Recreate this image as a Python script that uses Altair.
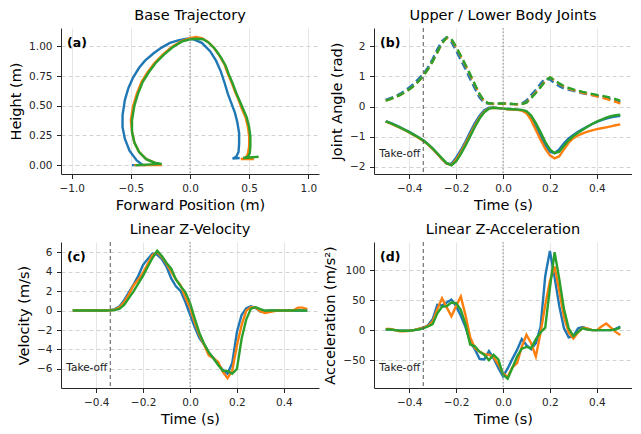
import altair as alt
import pandas as pd

FONT = "DejaVu Sans"
SERIES = ["Run 1", "Run 2", "Run 3"]
COLORS = ["#1f77b4", "#ff7f0e", "#2ca02c"]
TAKEOFF_T = -0.34
W, H = 258, 146

# ---------------- (a) base trajectory ----------------
traj_x_1 = [-0.49, -0.40, -0.45, -0.51, -0.55, -0.57, -0.57, -0.55, -0.52, -0.48, -0.43, -0.38, -0.31, -0.24,
            -0.17, -0.10, -0.03, 0.03, 0.10, 0.17, 0.22, 0.26, 0.29, 0.32, 0.35, 0.38, 0.40, 0.415, 0.415,
            0.41, 0.39, 0.36, 0.42]
traj_y_1 = [0.00, 0.00, 0.04, 0.12, 0.22, 0.32, 0.42, 0.55, 0.65, 0.74, 0.82, 0.88, 0.94, 0.99,
            1.03, 1.05, 1.065, 1.06, 1.03, 0.96, 0.88, 0.79, 0.70, 0.60, 0.52, 0.44, 0.36, 0.27, 0.18,
            0.11, 0.07, 0.055, 0.06]
traj_x_2 = [-0.47, -0.24, -0.30, -0.37, -0.43, -0.47, -0.49, -0.50, -0.48, -0.45, -0.41, -0.36, -0.30, -0.23,
            -0.16, -0.08, 0.00, 0.05, 0.10, 0.15, 0.20, 0.25, 0.29, 0.32, 0.35, 0.38, 0.41, 0.44, 0.47,
            0.49, 0.50, 0.50, 0.49, 0.47, 0.43, 0.54]
traj_y_2 = [0.00, 0.00, 0.02, 0.05, 0.11, 0.19, 0.28, 0.38, 0.50, 0.60, 0.70, 0.78, 0.86, 0.93,
            0.99, 1.04, 1.07, 1.08, 1.07, 1.04, 0.99, 0.92, 0.85, 0.77, 0.70, 0.62, 0.55, 0.47, 0.40,
            0.32, 0.24, 0.16, 0.10, 0.06, 0.05, 0.05]
traj_x_3 = [-0.46, -0.24, -0.30, -0.37, -0.43, -0.47, -0.49, -0.49, -0.47, -0.44, -0.40, -0.35, -0.29, -0.22,
            -0.15, -0.07, 0.00, 0.06, 0.11, 0.16, 0.21, 0.26, 0.30, 0.33, 0.36, 0.39, 0.42, 0.45, 0.48,
            0.50, 0.51, 0.51, 0.505, 0.49, 0.45, 0.58]
traj_y_3 = [0.00, 0.01, 0.02, 0.05, 0.11, 0.19, 0.28, 0.38, 0.50, 0.60, 0.70, 0.78, 0.86, 0.93,
            0.99, 1.04, 1.06, 1.065, 1.06, 1.03, 0.98, 0.91, 0.84, 0.76, 0.69, 0.61, 0.54, 0.47, 0.40,
            0.32, 0.24, 0.16, 0.10, 0.07, 0.06, 0.07]

# ---------------- common time axis ----------------
TIME = [-0.50, -0.48, -0.46, -0.44, -0.42, -0.40, -0.38, -0.36, -0.34, -0.32,
        -0.30, -0.28, -0.26, -0.24, -0.22, -0.20, -0.18, -0.16, -0.14, -0.12,
        -0.10, -0.08, -0.06, -0.04, -0.02, 0.00, 0.02, 0.04, 0.06, 0.08,
        0.10, 0.12, 0.14, 0.16, 0.18, 0.20, 0.22, 0.24, 0.26, 0.28,
        0.30, 0.32, 0.34, 0.36, 0.38, 0.40, 0.42, 0.44, 0.46, 0.48, 0.50]

# ---------------- (b) joints ----------------
upper_1 = [0.22, 0.28, 0.34, 0.42, 0.52, 0.63, 0.76, 0.92, 1.08, 1.30,
           1.58, 1.90, 2.18, 2.30, 2.15, 1.86, 1.55, 1.25, 0.92, 0.60,
           0.30, 0.13, 0.09, 0.08, 0.09, 0.10, 0.09, 0.08, 0.08, 0.10,
           0.20, 0.38, 0.56, 0.76, 0.94, 0.90, 0.78, 0.68, 0.60, 0.56,
           0.52, 0.48, 0.44, 0.41, 0.38, 0.35, 0.32, 0.28, 0.24, 0.20, 0.15]
upper_2 = [0.20, 0.25, 0.31, 0.38, 0.47, 0.57, 0.69, 0.84, 1.02, 1.24,
           1.50, 1.80, 2.10, 2.28, 2.22, 1.97, 1.67, 1.37, 1.05, 0.72,
           0.40, 0.17, 0.10, 0.09, 0.09, 0.10, 0.09, 0.08, 0.07, 0.08,
           0.14, 0.30, 0.47, 0.66, 0.86, 0.97, 0.86, 0.75, 0.66, 0.60,
           0.55, 0.50, 0.46, 0.42, 0.38, 0.34, 0.30, 0.26, 0.21, 0.16, 0.10]
upper_3 = [0.20, 0.25, 0.31, 0.38, 0.47, 0.57, 0.69, 0.84, 1.02, 1.24,
           1.50, 1.80, 2.10, 2.30, 2.24, 1.99, 1.69, 1.39, 1.07, 0.74,
           0.42, 0.18, 0.11, 0.10, 0.10, 0.10, 0.10, 0.09, 0.08, 0.08,
           0.13, 0.28, 0.45, 0.64, 0.84, 0.97, 0.88, 0.77, 0.68, 0.62,
           0.57, 0.53, 0.49, 0.46, 0.42, 0.39, 0.36, 0.33, 0.29, 0.25, 0.20]
lower_1 = [-0.48, -0.54, -0.61, -0.68, -0.76, -0.84, -0.93, -1.02, -1.12, -1.25,
           -1.40, -1.57, -1.75, -1.90, -1.90, -1.70, -1.45, -1.16, -0.85, -0.55,
           -0.30, -0.12, -0.04, -0.03, -0.05, -0.07, -0.08, -0.09, -0.10, -0.12,
           -0.20, -0.40, -0.68, -0.98, -1.28, -1.50, -1.55, -1.42, -1.22, -1.06,
           -0.94, -0.84, -0.75, -0.66, -0.58, -0.51, -0.45, -0.40, -0.36, -0.33, -0.31]
lower_2 = [-0.50, -0.56, -0.63, -0.70, -0.78, -0.86, -0.95, -1.04, -1.14, -1.26,
           -1.41, -1.57, -1.75, -1.90, -1.94, -1.77, -1.52, -1.24, -0.93, -0.63,
           -0.37, -0.17, -0.06, -0.04, -0.05, -0.07, -0.09, -0.10, -0.11, -0.13,
           -0.22, -0.45, -0.78, -1.10, -1.40, -1.62, -1.72, -1.65, -1.42, -1.20,
           -1.05, -0.96, -0.89, -0.83, -0.79, -0.75, -0.72, -0.69, -0.66, -0.62, -0.59]
lower_3 = [-0.49, -0.55, -0.62, -0.69, -0.77, -0.85, -0.94, -1.03, -1.13, -1.25,
           -1.39, -1.55, -1.72, -1.88, -1.95, -1.82, -1.58, -1.30, -0.99, -0.68,
           -0.40, -0.19, -0.07, -0.04, -0.05, -0.07, -0.08, -0.09, -0.10, -0.11,
           -0.15, -0.30, -0.55, -0.85, -1.17, -1.42, -1.55, -1.50, -1.30, -1.12,
           -0.98, -0.87, -0.77, -0.67, -0.58, -0.50, -0.43, -0.37, -0.32, -0.29, -0.27]

# ---------------- (c) velocity ----------------
vel_1 = [0.00, 0.00, 0.02, 0.02, 0.00, 0.00, 0.00, 0.02, 0.05, 0.15,
         0.45, 1.10, 1.90, 2.70, 3.60, 4.70, 5.30, 5.85, 5.75, 5.30,
         4.50, 3.30, 2.50, 2.00, 0.90, -0.40, -1.70, -2.80, -3.50, -4.30,
         -4.90, -5.50, -6.10, -6.50, -5.40, -2.20, -0.45, 0.25, 0.45, 0.25,
         -0.10, -0.10, 0.00, 0.00, 0.00, 0.00, 0.00, 0.00, 0.00, 0.00, 0.00]
vel_2 = [0.00, 0.00, 0.00, 0.00, 0.00, 0.00, 0.00, 0.00, 0.03, 0.10,
         0.35, 0.90, 1.70, 2.60, 3.20, 3.90, 4.80, 5.70, 6.00, 5.50,
         4.80, 4.00, 3.20, 2.60, 1.40, 0.30, -1.20, -2.50, -3.50, -4.60,
         -4.90, -5.30, -6.30, -6.95, -6.20, -3.60, -1.50, 0.00, 0.35, 0.30,
         -0.10, -0.25, -0.15, -0.05, 0.00, 0.00, 0.00, 0.00, 0.30, 0.30, 0.15]
vel_3 = [0.00, 0.00, 0.00, 0.00, 0.00, 0.00, 0.00, 0.00, 0.02, 0.05,
         0.20, 0.60, 1.30, 2.00, 2.80, 3.60, 4.50, 5.40, 6.15, 5.60,
         4.90, 4.30, 3.20, 2.50, 1.90, 0.80, -0.80, -2.30, -3.40, -4.30,
         -4.90, -5.60, -6.20, -6.20, -6.50, -6.00, -2.90, -0.90, 0.20, 0.35,
         0.15, 0.00, 0.00, 0.00, 0.00, 0.00, 0.00, 0.00, 0.00, 0.00, 0.00]

# ---------------- (d) acceleration ----------------
acc_1 = [1, 1, 0, -1, -1, -1, 0, 2, 4, 8,
         18, 42, 41, 46, 51, 40, 24, 5, -19, -32,
         -48, -49, -35, -47, -63, -77, -64, -48, -33, -15,
         -25, -32, -22, 5, 90, 132, 88, 40, 3, -12,
         -10, 3, 5, 2, 0, 0, 0, 0, 0, 2, 6]
acc_2 = [2, 2, 0, -2, -2, -1, 0, 2, 4, 7,
         14, 35, 53, 38, 23, 40, 56, 25, -12, -30,
         -36, -40, -41, -45, -57, -72, -78, -62, -55, -28,
         -8, -22, -44, -5, 42, 82, 106, 65, 22, -4,
         -14, -4, 4, 3, 0, 0, 6, 11, 4, -3, -8]
acc_3 = [1, 1, 0, -1, -1, -1, 0, 1, 3, 6,
         10, 28, 39, 40, 46, 45, 34, 10, -24, -27,
         -36, -41, -50, -41, -49, -74, -81, -63, -44, -31,
         -28, -30, -15, -4, 4, 70, 130, 85, 35, 3,
         -10, -3, 3, 1, 0, 0, 0, 0, 0, 1, 4]


def series_df(xs, ys):
    return pd.DataFrame({"x": xs, "y": ys, "order": list(range(len(xs)))})


def xenc(title, domain, values, fmt):
    return alt.X("x:Q", scale=alt.Scale(domain=domain, nice=False, zero=False),
                 axis=alt.Axis(title=title, values=values, format=fmt, grid=True,
                               gridColor="#e6e6e6", gridDash=[], gridWidth=1))


def yenc(title, domain, values, fmt):
    return alt.Y("y:Q", scale=alt.Scale(domain=domain, nice=False, zero=False),
                 axis=alt.Axis(title=title, values=values, format=fmt, grid=True,
                               gridColor="#d2d2d2", gridDash=[4, 3], gridWidth=1))


def title(txt):
    return alt.TitleParams(text=txt, font=FONT, fontSize=14.5, fontWeight="normal",
                           color="black", offset=4)


def letter(txt):
    return alt.Chart(pd.DataFrame({"label": [txt]})).mark_text(
        align="left", baseline="middle", font=FONT, fontSize=12.5, fontWeight="bold", color="black"
    ).encode(x=alt.value(6), y=alt.value(15), text="label:N")


def vrule(val, dash, color, X):
    return alt.Chart(pd.DataFrame({"x": [val]})).mark_rule(
        color=color, strokeDash=dash, strokeWidth=1
    ).encode(x=X)


def takeoff_text(X):
    return alt.Chart(pd.DataFrame({"x": [TAKEOFF_T], "label": ["Take-off"]})).mark_text(
        align="right", baseline="middle", dx=-3, font=FONT, fontSize=10.5, color="#222222"
    ).encode(x=X, y=alt.value(H - 20), text="label:N")


def lines(data_list, X, Y, dash=None):
    out = []
    for (xs, ys), c in zip(data_list, COLORS):
        kw = dict(color=c, strokeWidth=2.4, clip=True)
        if dash:
            kw["strokeDash"] = dash
        out.append(alt.Chart(series_df(xs, ys)).mark_line(**kw).encode(x=X, y=Y, order="order:Q"))
    return out


# panel a
Xa = xenc("Forward Position (m)", [-1.09, 1.09], [-1.0, -0.5, 0.0, 0.5, 1.0], ".1f")
Ya = yenc("Height (m)", [-0.075, 1.155], [0.0, 0.25, 0.5, 0.75, 1.0], ".2f")
pa = alt.layer(
    *lines([(traj_x_1, traj_y_1), (traj_x_2, traj_y_2), (traj_x_3, traj_y_3)], Xa, Ya),
    vrule(0.0, [1.5, 2], "#8c8c8c", Xa),
    letter("(a)"),
).properties(width=W, height=H, title=title("Base Trajectory"))

# panel b
Xt = xenc("Time (s)", [-0.55, 0.55], [-0.4, -0.2, 0.0, 0.2, 0.4], ".1f")
Yb = yenc("Joint Angle (rad)", [-2.24, 2.61], [-2, -1, 0, 1, 2], "d")
b_layers = []
for up, lo, c in zip([upper_1, upper_2, upper_3], [lower_1, lower_2, lower_3], COLORS):
    b_layers.append(alt.Chart(series_df(TIME, up)).mark_line(
        color=c, strokeWidth=2.4, strokeDash=[8, 4], clip=True).encode(x=Xt, y=Yb, order="order:Q"))
    b_layers.append(alt.Chart(series_df(TIME, lo)).mark_line(
        color=c, strokeWidth=2.4, clip=True).encode(x=Xt, y=Yb, order="order:Q"))
pb = alt.layer(
    *b_layers,
    vrule(TAKEOFF_T, [4, 3], "#555555", Xt),
    vrule(0.0, [1.5, 2], "#8c8c8c", Xt),
    takeoff_text(Xt),
    letter("(b)"),
).properties(width=W, height=H, title=title("Upper / Lower Body Joints"))

# panel c
Yc = yenc("Velocity (m/s)", [-7.96, 7.05], [-6, -4, -2, 0, 2, 4, 6], "d")
pc = alt.layer(
    *lines([(TIME, vel_1), (TIME, vel_2), (TIME, vel_3)], Xt, Yc),
    vrule(TAKEOFF_T, [4, 3], "#555555", Xt),
    vrule(0.0, [1.5, 2], "#8c8c8c", Xt),
    takeoff_text(Xt),
    letter("(c)"),
).properties(width=W, height=H, title=title("Linear Z-Velocity"))

# panel d
Yd = yenc("Acceleration (m/s²)", [-96.6, 147], [-50, 0, 50, 100], "d")
pdd = alt.layer(
    *lines([(TIME, acc_1), (TIME, acc_2), (TIME, acc_3)], Xt, Yd),
    vrule(TAKEOFF_T, [4, 3], "#555555", Xt),
    vrule(0.0, [1.5, 2], "#8c8c8c", Xt),
    takeoff_text(Xt),
    letter("(d)"),
).properties(width=W, height=H, title=title("Linear Z-Acceleration"))

chart = alt.concat(pa, pb, pc, pdd, columns=2, spacing={"row": 10, "column": 3}).properties(
    padding={"left": 0, "top": 0, "right": 0, "bottom": 0}
).configure_view(stroke=None).configure_axis(
    labelFont=FONT, labelFontSize=10.5, labelColor="#262626",
    titleFont=FONT, titleFontSize=14.5, titleFontWeight="normal", titleColor="black",
    domainColor="#262626", domainWidth=1, tickColor="#262626", tickSize=4.5, tickWidth=1,
    labelPadding=4.5, titlePadding=5,
)

chart.save("out.html", embed_options={"renderer": "svg", "actions": False})
